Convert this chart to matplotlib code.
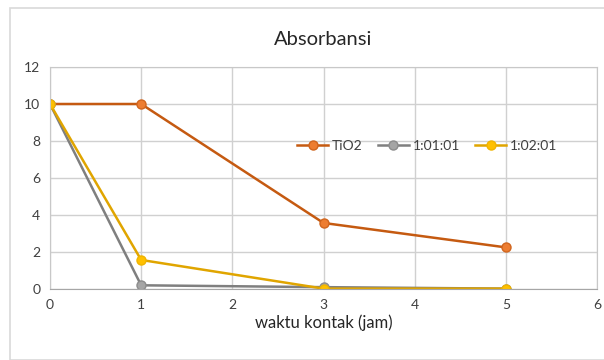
import matplotlib.pyplot as plt
from matplotlib.patches import Rectangle

# Data: absorbance over contact time
waktu = [0, 1, 3, 5]
tio2 = [10, 10, 3.57, 2.25]
s_010101 = [10, 0.2, 0.1, 0.02]
s_010201 = [10, 1.57, 0.02, 0.02]

plt.rcParams['font.family'] = ['Lato', 'DejaVu Sans']

fig = plt.figure(figsize=(6.04, 3.6), dpi=100)
ax = fig.add_axes([50 / 604, 1 - 289 / 360, 547 / 604, 222 / 360])

# chart frame
fig.patches.append(Rectangle((10 / 604, 0), 1.0, 1 - 8 / 360, transform=fig.transFigure,
                             fill=False, edgecolor='#D9D9D9', linewidth=1.2))

ax.plot(waktu, tio2, color='#C55A11', linewidth=1.8, marker='o', markersize=6.5,
        markerfacecolor='#ED7D31', markeredgecolor='#D0651E', label='TiO2')
ax.plot(waktu, s_010101, color='#7F7F7F', linewidth=1.8, marker='o', markersize=6.5,
        markerfacecolor='#A5A5A5', markeredgecolor='#8C8C8C', label='1:01:01')
ax.plot(waktu, s_010201, color='#E0A500', linewidth=1.8, marker='o', markersize=6.5,
        markerfacecolor='#FFC000', markeredgecolor='#F0B400', label='1:02:01')

ax.set_xlim(0, 6)
ax.set_ylim(0, 12)
ax.set_xticks(range(0, 7))
ax.set_yticks(range(0, 13, 2))
ax.grid(True, color='#D0D0D0', linewidth=1)
ax.set_axisbelow(True)
for s in ax.spines.values():
    s.set_color('#C8C8C8')
ax.spines['bottom'].set_color('#A6A6A6')
ax.tick_params(length=0, labelsize=10, colors='#404040', pad=7)

ax.set_title('Absorbansi', fontsize=14.5, color='#262626', pad=16)
ax.set_xlabel('waktu kontak (jam)', fontsize=12, color='#262626', labelpad=3)

ax.legend(loc='center', bbox_to_anchor=(0.69, 0.645), ncol=3, frameon=False,
          fontsize=10, handlelength=2.2, columnspacing=1.1, handletextpad=0.3,
          labelcolor='#404040')

plt.savefig('out.png', dpi=100)
